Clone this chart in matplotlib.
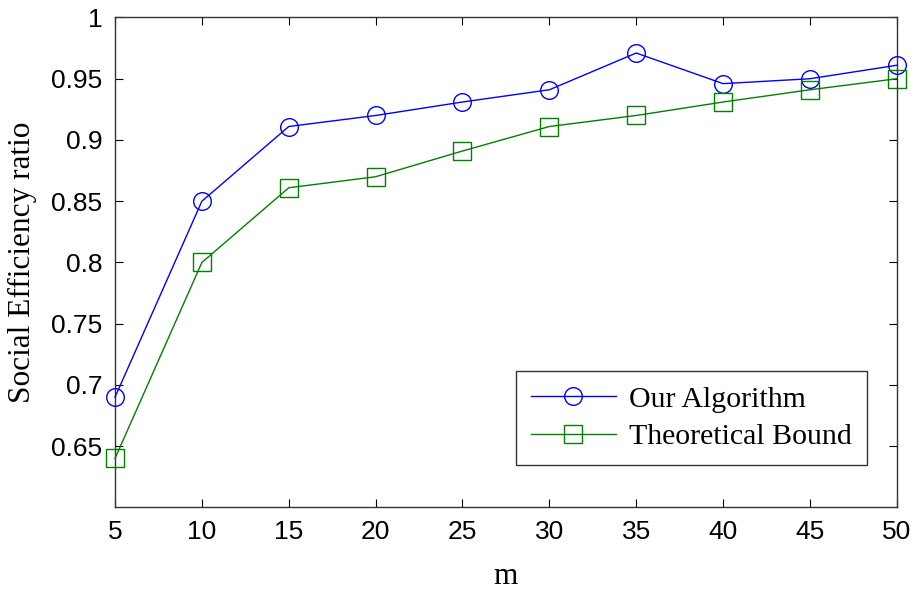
import matplotlib
matplotlib.use("Agg")
import matplotlib.pyplot as plt

# data
m_values = [5, 10, 15, 20, 25, 30, 35, 40, 45, 50]
our_algorithm = [0.69, 0.85, 0.911, 0.92, 0.931, 0.941, 0.971, 0.946, 0.95, 0.961]
theoretical_bound = [0.64, 0.80, 0.861, 0.87, 0.891, 0.911, 0.92, 0.931, 0.941, 0.95]
y_ticks = [0.65, 0.7, 0.75, 0.8, 0.85, 0.9, 0.95, 1]
y_tick_labels = ["0.65", "0.7", "0.75", "0.8", "0.85", "0.9", "0.95", "1"]

fig = plt.figure(figsize=(9.17, 5.93), dpi=100)
ax = fig.add_axes([0.1254, 0.1442, 0.8526, 0.8263])

ax.plot(m_values, our_algorithm, color="blue", lw=1, marker="o", ms=12.7,
        mfc="none", mec="blue", clip_on=False, zorder=3, label="Our Algorithm")
ax.plot(m_values, theoretical_bound, color="green", lw=1, marker="s", ms=12.5,
        mfc="none", mec="green", clip_on=False, zorder=3, label="Theoretical Bound")

ax.set_xlim(5, 50)
ax.set_ylim(0.6, 1)
ax.set_xticks(m_values)
ax.set_yticks(y_ticks)
ax.set_yticklabels(y_tick_labels)
ax.tick_params(direction="in", length=5.5, labelsize=19, pad=9,
               top=True, right=True)
for lab in ax.get_xticklabels() + ax.get_yticklabels():
    lab.set_fontfamily("Liberation Sans")
for sp in ax.spines.values():
    sp.set_linewidth(1)
    sp.set_color("#333333")

ax.set_xlabel("m", fontsize=22.5, family="Liberation Serif", labelpad=13)
ax.set_ylabel("Social Efficiency ratio", fontsize=22.5, family="Liberation Serif",
              labelpad=10)

leg = ax.legend(loc="lower right", bbox_to_anchor=(0.9616, 0.0867),
                borderaxespad=0,
                prop={"family": "Liberation Serif", "size": 21.5},
                fancybox=False, edgecolor="#333333", framealpha=1,
                handlelength=2.85, handletextpad=0.45, borderpad=0.5,
                labelspacing=0.35)
leg.get_frame().set_linewidth(1)

fig.savefig("out.png", dpi=100)
